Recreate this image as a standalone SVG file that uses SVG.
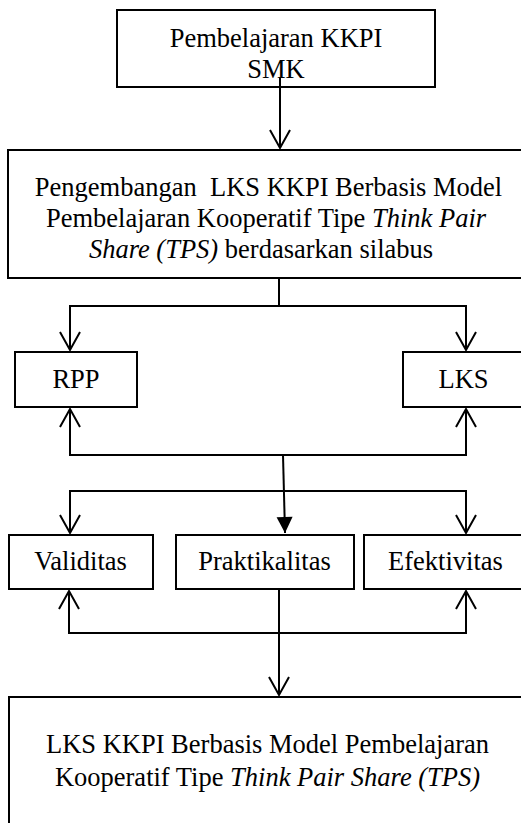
<svg xmlns="http://www.w3.org/2000/svg" width="521" height="823" viewBox="0 0 521 823">
<style>
  .box { fill: #ffffff; stroke: #000000; stroke-width: 2; }
  .ln { fill: none; stroke: #000000; stroke-width: 2; }
</style>
<defs>
  <marker id="open" markerUnits="userSpaceOnUse" markerWidth="24" markerHeight="24" viewBox="-20 -12 24 24" refX="0" refY="0" orient="auto">
    <path d="M -18 -10 L 0 0 L -18 10" fill="none" stroke="#000" stroke-width="2"/>
  </marker>
  <marker id="filled" markerUnits="userSpaceOnUse" markerWidth="24" markerHeight="24" viewBox="-20 -12 24 24" refX="0" refY="0" orient="auto">
    <path d="M -16 -8 L 0 0 L -16 8 Z" fill="#000"/>
  </marker>
</defs>

<g id="n-top">
  <rect class="box" x="117" y="10" width="318" height="77"/>
  <text style="font-family:'Liberation Serif',serif;font-size:26.5px" text-anchor="middle" x="276" y="47">Pembelajaran KKPI</text>
  <text style="font-family:'Liberation Serif',serif;font-size:26.5px" text-anchor="middle" x="276" y="78">SMK</text>
</g>

<g id="n-pengembangan">
  <rect class="box" x="8" y="150" width="530" height="128"/>
  <text style="font-family:'Liberation Serif',serif;font-size:26.5px" text-anchor="middle" x="268.5" y="196" xml:space="preserve">Pengembangan  LKS KKPI Berbasis Model</text>
  <text style="font-family:'Liberation Serif',serif;font-size:26.5px" text-anchor="middle" x="266" y="227">Pembelajaran Kooperatif Tipe <tspan font-style="italic">Think Pair</tspan></text>
  <text style="font-family:'Liberation Serif',serif;font-size:26.5px" text-anchor="middle" x="261" y="258"><tspan font-style="italic">Share (TPS)</tspan> berdasarkan silabus</text>
</g>

<g id="n-rpp">
  <rect class="box" x="15" y="352" width="122" height="55"/>
  <text style="font-family:'Liberation Serif',serif;font-size:26.5px" text-anchor="middle" x="76" y="388">RPP</text>
</g>

<g id="n-lks">
  <rect class="box" x="403" y="352" width="140" height="55"/>
  <text style="font-family:'Liberation Serif',serif;font-size:26.5px" text-anchor="middle" x="463.5" y="388">LKS</text>
</g>

<g id="n-validitas">
  <rect class="box" x="9" y="535" width="144" height="54"/>
  <text style="font-family:'Liberation Serif',serif;font-size:26.5px" text-anchor="middle" x="80.5" y="570">Validitas</text>
</g>

<g id="n-praktikalitas">
  <rect class="box" x="176" y="535" width="178" height="54"/>
  <text style="font-family:'Liberation Serif',serif;font-size:26.5px" text-anchor="middle" x="264.5" y="570">Praktikalitas</text>
</g>

<g id="n-efektivitas">
  <rect class="box" x="364" y="535" width="180" height="54"/>
  <text style="font-family:'Liberation Serif',serif;font-size:26.5px" text-anchor="middle" x="445.5" y="570">Efektivitas</text>
</g>

<g id="n-hasil">
  <rect class="box" x="9" y="697" width="530" height="140"/>
  <text style="font-family:'Liberation Serif',serif;font-size:26.5px" text-anchor="middle" x="267.5" y="753">LKS KKPI Berbasis Model Pembelajaran</text>
  <text style="font-family:'Liberation Serif',serif;font-size:26.5px" text-anchor="middle" x="267.5" y="786">Kooperatif Tipe <tspan font-style="italic">Think Pair Share (TPS)</tspan></text>
</g>

<g id="connectors">
  <line class="ln" x1="280" y1="78" x2="280" y2="148" marker-end="url(#open)"/>
  <path class="ln" d="M 279 278 L 279 306"/>
  <path class="ln" d="M 69 306 L 467 306"/>
  <line class="ln" x1="70" y1="306" x2="70" y2="350" marker-end="url(#open)"/>
  <line class="ln" x1="466" y1="306" x2="466" y2="350" marker-end="url(#open)"/>

  <line class="ln" x1="70" y1="455" x2="70" y2="409" marker-end="url(#open)"/>
  <line class="ln" x1="466" y1="455" x2="466" y2="409" marker-end="url(#open)"/>
  <path class="ln" d="M 69 455 L 467 455"/>
  <line class="ln" x1="283" y1="455" x2="285" y2="533" marker-end="url(#filled)"/>

  <path class="ln" d="M 69 491 L 467 491"/>
  <line class="ln" x1="70" y1="491" x2="70" y2="533" marker-end="url(#open)"/>
  <line class="ln" x1="466" y1="491" x2="466" y2="533" marker-end="url(#open)"/>

  <line class="ln" x1="69" y1="633" x2="69" y2="591" marker-end="url(#open)"/>
  <line class="ln" x1="466" y1="633" x2="466" y2="591" marker-end="url(#open)"/>
  <path class="ln" d="M 68 633 L 467 633"/>
  <line class="ln" x1="279" y1="589" x2="279" y2="695" marker-end="url(#open)"/>
</g>
</svg>
